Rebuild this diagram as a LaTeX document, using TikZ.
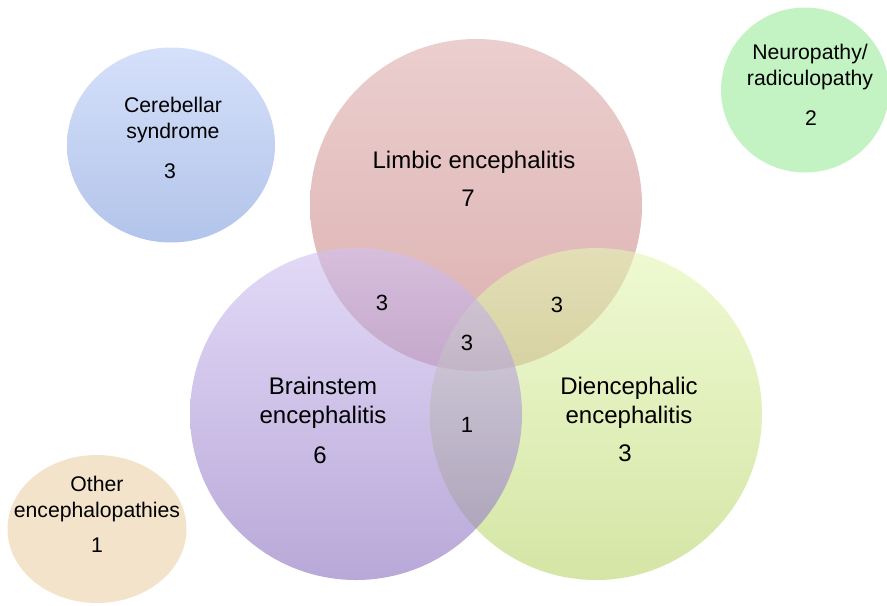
\documentclass[tikz,border=0pt]{standalone}
\usepackage{fontspec}
\setmainfont{Liberation Sans}
\usetikzlibrary{shapes.geometric}

\definecolor{cerebtop}{HTML}{D5E0FA}
\definecolor{cerebbot}{HTML}{B2C4EA}
\definecolor{neurofill}{HTML}{C3F3C3}
\definecolor{otherfill}{HTML}{F3E3CA}
\definecolor{limbtop}{HTML}{DEAEAE}
\definecolor{limbbot}{HTML}{C67B7B}
\definecolor{braintop}{HTML}{CFC1F2}
\definecolor{brainbot}{HTML}{896EBE}
\definecolor{dienctop}{HTML}{E4F6B4}
\definecolor{diencbot}{HTML}{B9D469}

\begin{document}
\begin{tikzpicture}[x=0.5pt, y=-0.5pt, set/.style={circle, inner sep=0pt, minimum size=166pt, fill opacity=0.6}, blob/.style={ellipse, inner sep=0pt}, txt/.style={align=center, font=\fontsize{12}{14.5}\selectfont}, count/.style={font=\fontsize{12}{14}\selectfont}, smalltxt/.style={align=center, font=\fontsize{10.6}{13}\selectfont}, overlap/.style={font=\fontsize{11}{13}\selectfont}]
\useasboundingbox (0,0) rectangle (887,605);
% outlying groups
\node[blob, top color=cerebtop, bottom color=cerebbot, minimum width=104pt, minimum height=97.5pt] (cereb) at (171,145) {};
\node[blob, fill=neurofill, minimum width=84pt, minimum height=82.5pt] (neuro) at (805,90) {};
\node[blob, fill=otherfill, minimum width=89.5pt, minimum height=74pt] (other) at (97,529) {};
% the three overlapping sets
\node[set, top color=limbtop, bottom color=limbbot] (limbic) at (476,205) {};
\node[set, top color=dienctop, bottom color=diencbot] (dienc) at (596,414) {};
\node[set, top color=braintop, bottom color=brainbot] (brain) at (356,414) {};
% names and counts
\node[smalltxt] (cerebname) at (173,120) {Cerebellar\\syndrome};
\node[smalltxt] (cerebnum) at (170,171) {3};
\node[smalltxt] (neuroname) at (810,67.5) {Neuropathy/\\radiculopathy};
\node[smalltxt] (neuronum) at (811,118) {2};
\node[smalltxt] (othername) at (97,499.5) {Other\\encephalopathies};
\node[smalltxt] (othernum) at (97,545) {1};
\node[txt] (limbname) at (474,162) {Limbic encephalitis};
\node[count] (limbnum) at (468,198) {7};
\node[txt] (brainname) at (323,402.5) {Brainstem\\encephalitis};
\node[count] (brainnum) at (320,455) {6};
\node[txt] (diencname) at (629,402.5) {Diencephalic\\encephalitis};
\node[count] (diencnum) at (625,453) {3};
\node[overlap] (limbbrain) at (382,303) {3};
\node[overlap] (limbdienc) at (557,305) {3};
\node[overlap] (allthree) at (467,343) {3};
\node[overlap] (braindienc) at (467,425) {1};
\end{tikzpicture}
\end{document}
